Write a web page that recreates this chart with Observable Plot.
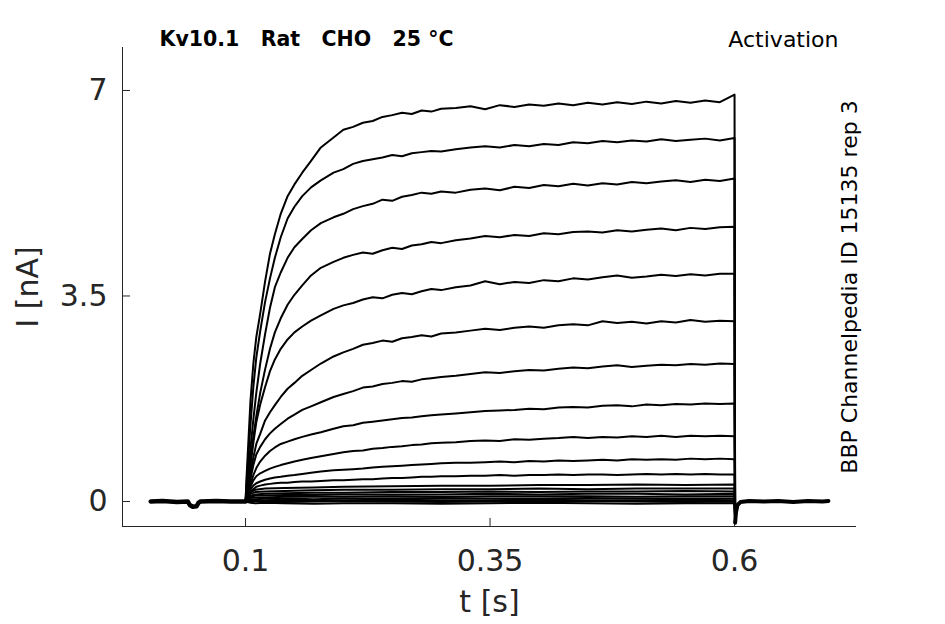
<!DOCTYPE html>
<html>
<head>
<meta charset="utf-8">
<script src="https://cdn.jsdelivr.net/npm/d3@7"></script>
<script src="https://cdn.jsdelivr.net/npm/@observablehq/plot@0.6"></script>
<style>
  html, body { margin: 0; padding: 0; background: #fff; }
  svg text { white-space: pre; }
</style>
</head>
<body>
<div id="chart"></div>
<script>
// ---- axis configuration ----
const xDomain = [-0.0258, 0.7247];
const yDomain = [-0.426, 7.732];
const xTicks = [0.1, 0.35, 0.6];
const yTicks = [0, 3.5, 7];

// ---- texts ----
const titleText = "Kv10.1   Rat   CHO   25 °C";
const protocolText = "Activation";
const sourceText = "BBP Channelpedia ID 15135 rep 3";
const xLabel = "t [s]";
const yLabel = "I [nA]";

// ---- time samples during the voltage step (s) ----
const tPulse = [0.1, 0.101, 0.103, 0.105, 0.108, 0.111, 0.115, 0.12, 0.125, 0.13,
  0.136, 0.143, 0.15, 0.158, 0.167, 0.177, 0.19, 0.2, 0.21, 0.22,
  0.23, 0.24, 0.25, 0.26, 0.27, 0.28, 0.29, 0.3, 0.315, 0.33,
  0.345, 0.36, 0.375, 0.39, 0.405, 0.42, 0.435, 0.45, 0.465, 0.48,
  0.495, 0.51, 0.525, 0.54, 0.555, 0.57, 0.585, 0.6];

// ---- large current traces (nA) ----
const trace1 = [0, 0.4, 1.05, 1.7, 2.35, 2.8, 3.2, 3.75, 4.22, 4.55,
  4.9, 5.2, 5.4, 5.6, 5.8, 6.03, 6.2, 6.33, 6.38, 6.45,
  6.48, 6.55, 6.58, 6.62, 6.6, 6.66, 6.64, 6.69, 6.7, 6.73,
  6.68, 6.75, 6.72, 6.76, 6.74, 6.78, 6.75, 6.79, 6.76, 6.8,
  6.77, 6.81, 6.78, 6.82, 6.79, 6.83, 6.8, 6.93];
const trace2 = [0, 0.3, 0.8, 1.3, 1.95, 2.45, 2.9, 3.4, 3.8, 4.15,
  4.5, 4.82, 5.02, 5.2, 5.35, 5.47, 5.6, 5.66, 5.75, 5.8,
  5.83, 5.86, 5.9, 5.88, 5.93, 5.95, 5.97, 5.96, 6.0, 6.03,
  6.05, 6.03, 6.07, 6.05, 6.09, 6.07, 6.12, 6.1, 6.14, 6.12,
  6.15, 6.13, 6.17, 6.14, 6.16, 6.18, 6.15, 6.19];
const trace3 = [0, 0.2, 0.55, 0.9, 1.4, 1.85, 2.35, 2.85, 3.3, 3.65,
  3.9, 4.15, 4.33, 4.47, 4.62, 4.74, 4.84, 4.9, 4.98, 5.03,
  5.07, 5.14, 5.12, 5.19, 5.22, 5.26, 5.24, 5.28, 5.26, 5.31,
  5.33, 5.3, 5.36, 5.34, 5.39, 5.37, 5.41, 5.38, 5.42, 5.4,
  5.44, 5.42, 5.45, 5.47, 5.44, 5.48, 5.46, 5.5];
const trace4 = [0, 0.15, 0.42, 0.7, 1.1, 1.45, 1.85, 2.25, 2.6, 2.88,
  3.12, 3.35, 3.52, 3.68, 3.85, 3.98, 4.08, 4.15, 4.2, 4.24,
  4.22, 4.28, 4.32, 4.3, 4.36, 4.38, 4.42, 4.4, 4.45, 4.48,
  4.52, 4.5, 4.54, 4.52, 4.57, 4.55, 4.59, 4.6, 4.58, 4.62,
  4.6, 4.63, 4.65, 4.62, 4.66, 4.64, 4.67, 4.68];
const trace5 = [0, 0.12, 0.35, 0.6, 1.0, 1.35, 1.65, 1.95, 2.22, 2.42,
  2.6, 2.76, 2.88, 2.98, 3.08, 3.17, 3.28, 3.34, 3.38, 3.44,
  3.48, 3.46, 3.52, 3.55, 3.53, 3.58, 3.62, 3.6, 3.65, 3.68,
  3.75, 3.7, 3.74, 3.72, 3.77, 3.75, 3.8, 3.78, 3.82, 3.85,
  3.81, 3.83, 3.86, 3.84, 3.87, 3.85, 3.88, 3.88];
const trace6 = [0, 0.1, 0.28, 0.48, 0.75, 0.98, 1.15, 1.38, 1.52, 1.64,
  1.78, 1.92, 2.02, 2.14, 2.24, 2.35, 2.47, 2.54, 2.6, 2.67,
  2.7, 2.74, 2.72, 2.78, 2.8, 2.83, 2.81, 2.86, 2.88, 2.91,
  2.94, 2.92, 2.96, 2.98, 2.96, 3.0, 3.02, 3.0, 3.07, 3.04,
  3.06, 3.03, 3.07, 3.05, 3.09, 3.06, 3.08, 3.07];
const trace7 = [0, 0.08, 0.22, 0.38, 0.62, 0.8, 0.93, 1.06, 1.16, 1.24,
  1.32, 1.41, 1.48, 1.56, 1.62, 1.69, 1.78, 1.83, 1.88, 1.94,
  1.96, 2.0, 2.02, 2.05, 2.04, 2.08, 2.1, 2.12, 2.14, 2.17,
  2.2, 2.19, 2.22, 2.24, 2.23, 2.26, 2.28, 2.27, 2.3, 2.32,
  2.29, 2.31, 2.33, 2.32, 2.34, 2.33, 2.35, 2.34];
const trace8 = [0, 0.06, 0.18, 0.3, 0.45, 0.57, 0.68, 0.78, 0.86, 0.92,
  0.98, 1.02, 1.06, 1.1, 1.14, 1.18, 1.24, 1.28, 1.3, 1.34,
  1.36, 1.38, 1.4, 1.42, 1.43, 1.45, 1.47, 1.48, 1.5, 1.52,
  1.54, 1.55, 1.56, 1.58, 1.57, 1.6, 1.61, 1.6, 1.63, 1.64,
  1.62, 1.65, 1.64, 1.66, 1.65, 1.67, 1.66, 1.67];
const trace9 = [0, 0.05, 0.15, 0.25, 0.36, 0.43, 0.48, 0.52, 0.56, 0.59,
  0.62, 0.65, 0.68, 0.71, 0.74, 0.77, 0.81, 0.84, 0.86, 0.87,
  0.9, 0.91, 0.93, 0.94, 0.96, 0.97, 0.99, 1.0, 1.01, 1.03,
  1.04, 1.03, 1.06, 1.05, 1.07, 1.08, 1.1, 1.08, 1.1, 1.09,
  1.11, 1.1, 1.12, 1.1, 1.12, 1.11, 1.12, 1.11];
const trace10 = [0, 0.04, 0.12, 0.2, 0.27, 0.31, 0.34, 0.37, 0.39, 0.41,
  0.42, 0.44, 0.45, 0.47, 0.49, 0.51, 0.53, 0.54, 0.55, 0.56,
  0.58, 0.59, 0.6, 0.61, 0.62, 0.63, 0.64, 0.65, 0.66, 0.66,
  0.67, 0.68, 0.67, 0.69, 0.68, 0.7, 0.69, 0.7, 0.71, 0.7,
  0.72, 0.71, 0.72, 0.71, 0.73, 0.72, 0.73, 0.72];
const trace11 = [0, 0.03, 0.1, 0.16, 0.21, 0.25, 0.27, 0.29, 0.3, 0.31,
  0.32, 0.32, 0.33, 0.34, 0.34, 0.35, 0.36, 0.36, 0.37, 0.38,
  0.38, 0.39, 0.4, 0.4, 0.41, 0.42, 0.42, 0.43, 0.43, 0.44,
  0.44, 0.45, 0.44, 0.45, 0.45, 0.46, 0.45, 0.46, 0.46, 0.45,
  0.46, 0.47, 0.46, 0.47, 0.46, 0.47, 0.46, 0.46];

// ---- small current traces (nA), sparser time samples ----
const tSmall = [0.1, 0.102, 0.105, 0.11, 0.12, 0.14, 0.17, 0.2, 0.25, 0.3, 0.35, 0.4, 0.45, 0.5, 0.55, 0.6];
const trace12 = [0, 0.1, 0.16, 0.2, 0.22, 0.23, 0.24, 0.25, 0.26, 0.27, 0.27, 0.28, 0.28, 0.29, 0.28, 0.29];
const trace13 = [0, 0.08, 0.13, 0.16, 0.17, 0.18, 0.19, 0.2, 0.2, 0.21, 0.21, 0.22, 0.21, 0.22, 0.22, 0.22];
const trace14 = [0, 0.06, 0.1, 0.12, 0.13, 0.14, 0.15, 0.15, 0.16, 0.16, 0.17, 0.16, 0.17, 0.17, 0.18, 0.17];
const trace15 = [0, 0.05, 0.08, 0.1, 0.1, 0.11, 0.11, 0.12, 0.12, 0.12, 0.13, 0.12, 0.13, 0.13, 0.12, 0.13];
const trace16 = [0, 0.04, 0.06, 0.07, 0.07, 0.08, 0.08, 0.08, 0.09, 0.08, 0.09, 0.09, 0.09, 0.08, 0.09, 0.09];
const trace17 = [0, 0.03, 0.04, 0.04, 0.05, 0.05, 0.04, 0.05, 0.05, 0.06, 0.05, 0.05, 0.06, 0.05, 0.05, 0.05];
const trace18 = [0, 0.02, 0.02, 0.02, 0.02, 0.03, 0.02, 0.02, 0.03, 0.02, 0.02, 0.03, 0.02, 0.02, 0.03, 0.02];
const trace19 = [0, 0.01, 0.0, 0.01, 0.0, -0.01, 0.0, 0.01, 0.0, -0.01, 0.0, 0.0, 0.01, 0.0, -0.01, 0.0];
const trace20 = [0, -0.01, -0.02, -0.03, -0.02, -0.03, -0.04, -0.03, -0.03, -0.04, -0.03, -0.02, -0.03, -0.04, -0.03, -0.03];

// ---- holding baseline before and after the step ----
const tPre = [0.003, 0.015, 0.03, 0.041, 0.043, 0.046, 0.05, 0.052, 0.054, 0.07, 0.085, 0.1];
const iPre = [0, 0.01, -0.01, 0, -0.06, -0.09, -0.08, -0.02, 0, 0.01, 0, 0];
const tPost = [0.6006, 0.6015, 0.603, 0.606, 0.615, 0.63, 0.645, 0.66, 0.675, 0.69, 0.696];
const iPost = [-0.36, -0.18, -0.06, -0.01, 0.01, 0, 0.01, -0.01, 0.01, 0, 0.01];

// ---- build tables ----
const bigTraces = [trace1, trace2, trace3, trace4, trace5, trace6, trace7, trace8, trace9, trace10, trace11];
const smallTraces = [trace12, trace13, trace14, trace15, trace16, trace17, trace18, trace19, trace20];
const rows = [];
bigTraces.forEach((vals, k) => {
  vals.forEach((v, j) => rows.push({t: tPulse[j], i: v, k}));
  rows.push({t: tPost[0], i: iPost[0], k});
});
smallTraces.forEach((vals, k) => {
  vals.forEach((v, j) => rows.push({t: tSmall[j], i: v, k: k + 100}));
  rows.push({t: tPost[0], i: iPost[0], k: k + 100});
});
const preRows = tPre.map((t, j) => ({t, i: iPre[j]}));
const postRows = tPost.map((t, j) => ({t, i: iPost[j]}));

const axisColor = "#262626";

const chart = Plot.plot({
  width: 945,
  height: 624,
  marginLeft: 122,
  marginRight: 89,
  marginTop: 47,
  marginBottom: 98,
  x: {domain: xDomain},
  y: {domain: yDomain},
  style: {fontFamily: "DejaVu Sans", background: "#fff", overflow: "visible"},
  marks: [
    Plot.ruleX([xDomain[0]], {stroke: axisColor, strokeWidth: 1}),
    Plot.ruleY([yDomain[0]], {stroke: axisColor, strokeWidth: 1}),
    Plot.axisX({ticks: xTicks, tickSize: -8, tickPadding: 31, fontSize: 30, color: axisColor, label: null, tickFormat: d => String(d)}),
    Plot.axisY({ticks: yTicks, tickSize: -8, tickPadding: 23, fontSize: 30, color: axisColor, label: null, tickFormat: d => String(d)}),
    Plot.line(preRows, {x: "t", y: "i", stroke: "black", strokeWidth: 4.5}),
    Plot.line(postRows, {x: "t", y: "i", stroke: "black", strokeWidth: 4}),
    Plot.line(rows, {x: "t", y: "i", z: "k", stroke: "black", strokeWidth: 2}),
    Plot.text([xLabel], {text: d => d, frameAnchor: "bottom", dy: 76, fontSize: 30, fill: axisColor, lineAnchor: "middle", textAnchor: "middle"}),
    Plot.text([yLabel], {text: d => d, frameAnchor: "left", dx: -94, rotate: -90, fontSize: 30, fill: axisColor, lineAnchor: "middle", textAnchor: "middle"}),
    Plot.text([titleText], {text: d => d, frameAnchor: "top-left", dx: 37, dy: -8, textAnchor: "start", fontWeight: "bold", fontSize: 20.5, fill: "black", lineAnchor: "middle"}),
    Plot.text([protocolText], {text: d => d, frameAnchor: "top-right", dx: -18, dy: -8, textAnchor: "end", fontSize: 22, fill: "black", lineAnchor: "middle"}),
    Plot.text([sourceText], {text: d => d, frameAnchor: "right", dx: -7, rotate: -90, fontSize: 22, fill: "black", lineAnchor: "middle", textAnchor: "middle"})
  ]
});
document.getElementById("chart").appendChild(chart);
</script>
</body>
</html>
